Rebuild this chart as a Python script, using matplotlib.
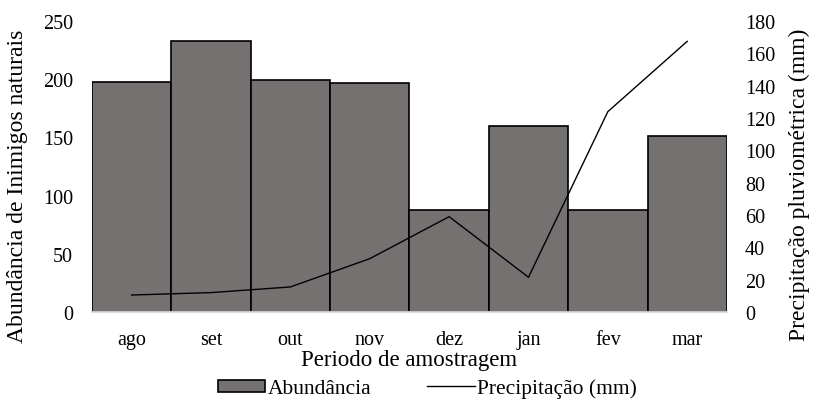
import matplotlib
matplotlib.use("Agg")
import matplotlib.pyplot as plt
import numpy as np

months = ["ago", "set", "out", "nov", "dez", "jan", "fev", "mar"]
abundancia = [198, 233, 199, 197, 88, 160, 88, 151]
precipitacao = [10.5, 12, 15.5, 33, 59, 21.5, 124, 167.5]

plt.rcParams['font.family'] = ['Liberation Serif', 'DejaVu Serif']
plt.rcParams['font.size'] = 14.5

fig = plt.figure(figsize=(8.14, 4.10), dpi=100)
ax = fig.add_axes([0.113, 0.2366, 0.78, 0.7094])
x = np.arange(len(months))
b = ax.bar(x, abundancia, width=1.0, color="#767171", edgecolor="black", linewidth=1.2, label="Abundância")
ax.set_xlim(-0.5, len(months) - 0.5)
ax.set_ylim(0, 250)
ax.set_yticks(range(0, 251, 50))
ax.set_xticks(x)
ax.set_xticklabels(months)
ax.tick_params(axis='both', length=0, labelsize=14.5)
ax.tick_params(axis='y', pad=13.5)
ax.tick_params(axis='x', pad=13)
for s in ["top", "right", "left"]:
    ax.spines[s].set_visible(False)
ax.spines["bottom"].set_color("#d9d9d9")
ax.spines["bottom"].set_linewidth(1.3)
ax.spines["bottom"].set_zorder(5)
ax.set_ylabel("Abundância de Inimigos naturais", fontsize=17)
ax.yaxis.set_label_coords(-0.1, 0.435)
ax.set_xlabel("Periodo de amostragem", fontsize=16.5, labelpad=0)

ax2 = ax.twinx()
l, = ax2.plot(x, precipitacao, color="black", linewidth=1.0, label="Precipitação (mm)")
ax2.set_ylim(0, 180)
ax2.set_yticks(range(0, 181, 20))
ax2.tick_params(axis='y', length=0, pad=13, labelsize=14.5)
for s in ["top", "right", "left", "bottom"]:
    ax2.spines[s].set_visible(False)
ax2.set_ylabel("Precipitação pluviométrica (mm)", fontsize=17)
ax2.yaxis.set_label_coords(1.098, 0.44)

fig.legend([b, l], ["Abundância", "Precipitação (mm)"], loc="center", bbox_to_anchor=(0.525, 0.05),
           ncol=2, frameon=False, fontsize=15.5, handlelength=2.2, handleheight=0.5,
           handletextpad=0.1, columnspacing=2.6)

fig.savefig("out.png", dpi=100)
